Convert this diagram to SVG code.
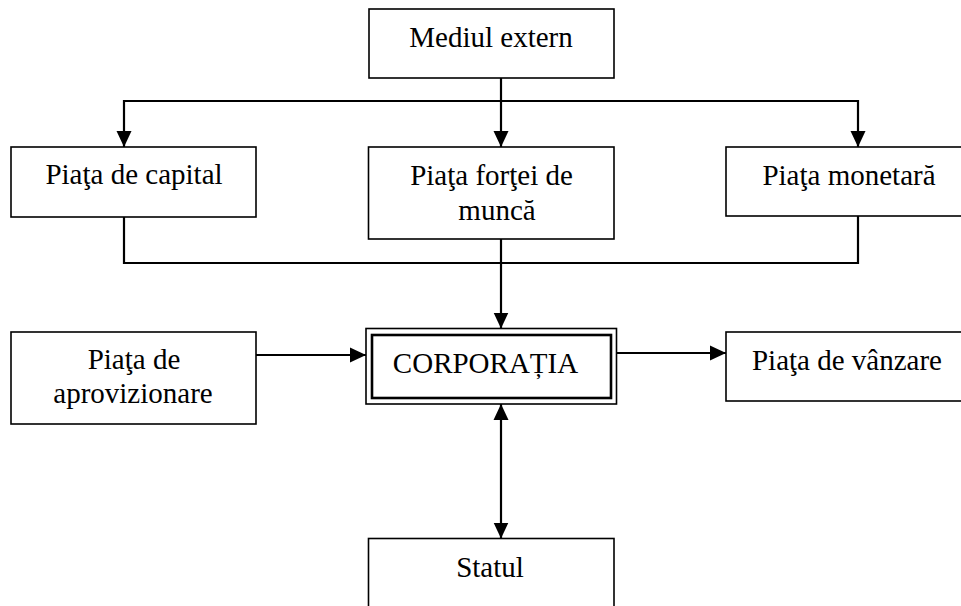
<svg xmlns="http://www.w3.org/2000/svg" width="961" height="606" viewBox="0 0 961 606">
<defs>
<style>
.box{fill:#fff;stroke:#000;stroke-width:1.6}
.inner{fill:none;stroke:#000;stroke-width:2.6}
.lbl{font-family:"Liberation Serif","Times New Roman",serif;font-size:29px;fill:#000;text-anchor:middle}
.con{fill:none;stroke:#000;stroke-width:2.2}
</style>
<marker id="ah" markerUnits="userSpaceOnUse" markerWidth="16" markerHeight="16" refX="16" refY="8" orient="auto-start-reverse">
<path d="M0,0.5 L16,8 L0,15.5 z" fill="#000"/>
</marker>
</defs>
<rect width="961" height="606" fill="#fff"/>
<g id="connectors">
<line class="con" x1="501" y1="78" x2="501" y2="147" marker-end="url(#ah)"/>
<polyline class="con" points="501,101 124,101 124,147" marker-end="url(#ah)"/>
<polyline class="con" points="501,101 858,101 858,147" marker-end="url(#ah)"/>
<polyline class="con" points="124,217 124,263 858,263 858,216"/>
<line class="con" x1="501" y1="239" x2="501" y2="328.5" marker-end="url(#ah)"/>
<line class="con" x1="256" y1="355" x2="366" y2="355" marker-end="url(#ah)"/>
<line class="con" x1="617" y1="353" x2="726" y2="353" marker-end="url(#ah)"/>
<line class="con" x1="501" y1="404" x2="501" y2="538.5" marker-start="url(#ah)" marker-end="url(#ah)"/>
</g>
<g id="mediul-extern">
<rect class="box" x="369" y="9" width="245" height="69"/>
<text class="lbl" x="491" y="47">Mediul extern</text>
</g>
<g id="piata-capital">
<rect class="box" x="11" y="147" width="245" height="70"/>
<text class="lbl" x="134" y="184">Piaţa de capital</text>
</g>
<g id="piata-fortei">
<rect class="box" x="368.5" y="147" width="245.5" height="92"/>
<text class="lbl" x="491.5" y="185">Piaţa forţei de</text>
<text class="lbl" x="497" y="220">muncă</text>
</g>
<g id="piata-monetara">
<rect class="box" x="726" y="147" width="245" height="69"/>
<text class="lbl" x="849" y="185">Piaţa monetară</text>
</g>
<g id="piata-aprovizionare">
<rect class="box" x="11" y="332" width="245" height="92"/>
<text class="lbl" x="134" y="369">Piaţa de</text>
<text class="lbl" x="133" y="403">aprovizionare</text>
</g>
<g id="corporatia">
<rect class="box" x="366" y="328.5" width="250.5" height="75.5"/>
<rect class="inner" x="372" y="335" width="239" height="63"/>
<text class="lbl" x="485.5" y="373">CORPORAȚIA</text>
</g>
<g id="piata-vanzare">
<rect class="box" x="726" y="332" width="245" height="69"/>
<text class="lbl" x="847" y="370">Piaţa de vânzare</text>
</g>
<g id="statul">
<rect class="box" x="368.5" y="538.5" width="245.5" height="80"/>
<text class="lbl" x="490" y="577">Statul</text>
</g>
</svg>
